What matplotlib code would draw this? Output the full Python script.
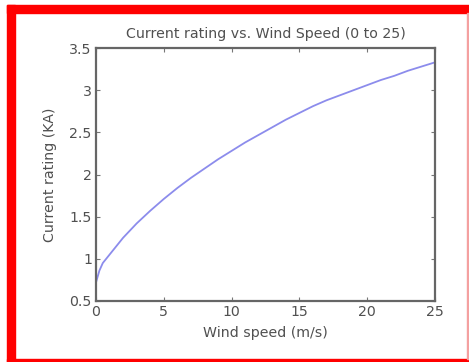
import matplotlib
matplotlib.use("Agg")
import matplotlib.pyplot as plt
from matplotlib.patches import Rectangle

wind_speed = [0, 0.25, 0.5, 1, 1.5, 2, 3, 4, 5, 6, 7, 8, 9, 10, 11, 12, 13, 14,
              15, 16, 17, 18, 19, 20, 21, 22, 23, 24, 25]
current_rating = [0.72, 0.86, 0.95, 1.05, 1.15, 1.25, 1.42, 1.57, 1.71, 1.84, 1.96,
                  2.07, 2.18, 2.28, 2.38, 2.47, 2.56, 2.65, 2.73, 2.81, 2.88, 2.94,
                  3.00, 3.06, 3.12, 3.17, 3.23, 3.28, 3.33]
xticks = [0, 5, 10, 15, 20, 25]
yticks = [0.5, 1, 1.5, 2, 2.5, 3, 3.5]

plt.rcParams['font.family'] = ['DejaVu Sans']
W, H = 469, 362
fig = plt.figure(figsize=(W / 100, H / 100), dpi=100)
fig.patch.set_facecolor('white')

# red frame
def frect(x0, y0, x1, y1, color):
    fig.patches.append(Rectangle((x0 / W, 1 - y1 / H), (x1 - x0) / W, (y1 - y0) / H,
                                 transform=fig.transFigure, color=color, zorder=0))
frect(7, 5, 469, 13, 'red')
frect(7, 5, 15, 362, 'red')
frect(7, 359, 469, 362, 'red')
frect(467, 13, 469, 359, '#f4a0a0')

ax = fig.add_axes([96 / W, 1 - 301 / H, (435 - 96) / W, (301 - 48) / H])
ax.plot(wind_speed, current_rating, color='#8c8cec', linewidth=1.3)
ax.set_xlim(0, 25)
ax.set_ylim(0.5, 3.5)
ax.set_xticks(xticks)
ax.set_xticklabels([str(t) for t in xticks])
ax.set_yticks(yticks)
ax.set_yticklabels(['0.5', '1', '1.5', '2', '2.5', '3', '3.5'])
txtc = '#505050'
fs = 10.2
for s in ax.spines.values():
    s.set_color('#666666')
    s.set_linewidth(1.6)
ax.tick_params(direction='in', top=True, right=True, length=3, width=0.8,
               colors='#777777', labelcolor=txtc, labelsize=fs, pad=3)
ax.set_title('Current rating vs. Wind Speed (0 to 25)', fontsize=fs, color=txtc, pad=7)
ax.set_xlabel('Wind speed (m/s)', fontsize=fs, color=txtc, labelpad=5)
ax.set_ylabel('Current rating (KA)', fontsize=fs, color=txtc, labelpad=9)

fig.savefig('out.png', dpi=100)
